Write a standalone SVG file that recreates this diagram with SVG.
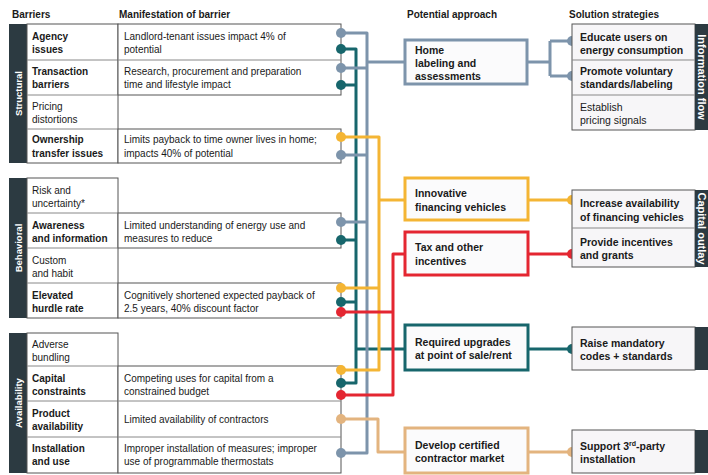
<svg xmlns="http://www.w3.org/2000/svg" width="708" height="475" viewBox="0 0 708 475">
<style>
text{font-family:"Liberation Sans",Arial,sans-serif;fill:#1a1a1a}
.h{font-size:10px;font-weight:bold}
.b{font-size:10px;font-weight:bold}
.n{font-size:10px}
.a{font-size:10.5px;font-weight:bold}
.s{font-size:10.5px;font-weight:bold}
.sn{font-size:10.5px}
.cell{fill:#fff;stroke:#555;stroke-width:1}
.sol{fill:#f7f6f8;stroke:#555;stroke-width:1}
.sep{stroke:#888;stroke-width:1}
.bar{fill:#2c3a41}
.bt{fill:#fff;font-size:9.5px;font-weight:bold;text-anchor:middle}
.rt{fill:#fff;font-size:11px;font-weight:bold;text-anchor:middle}
.ln{fill:none;stroke-width:3;stroke-linejoin:round}
.gy{stroke:#7d94ab}.tl{stroke:#17666c}.og{stroke:#f4b534}.rd{stroke:#e42631}.tn{stroke:#e3b47f}
.dgy{fill:#7d94ab}.dtl{fill:#17666c}.dog{fill:#f4b534}.drd{fill:#e42631}.dtn{fill:#e3b47f}
.ab{fill:#fbfbfc;stroke-width:3}
</style>

<g id="headers">
<text class="h" x="12" y="18">Barriers</text>
<text class="h" x="119" y="18">Manifestation of barrier</text>
<text class="h" x="407" y="18">Potential approach</text>
<text class="h" x="569" y="18">Solution strategies</text>
</g>

<g id="structural">
<rect class="bar" x="9" y="24" width="18" height="139"/>
<text class="bt" transform="translate(21.5,93.5) rotate(-90)">Structural</text>
<rect class="cell" x="27" y="24" width="91" height="139"/>
<line class="sep" x1="27" y1="60" x2="118" y2="60"/>
<line class="sep" x1="27" y1="95" x2="118" y2="95"/>
<line class="sep" x1="27" y1="129" x2="118" y2="129"/>
<rect class="cell" x="118" y="24" width="223" height="71"/>
<line class="sep" x1="118" y1="60" x2="341" y2="60"/>
<rect class="cell" x="118" y="129" width="223" height="34"/>
<text class="b" x="32" y="39.5">Agency</text>
<text class="b" x="32" y="52.5">issues</text>
<text class="n" x="124" y="39.5">Landlord-tenant issues impact 4% of</text>
<text class="n" x="124" y="52.5">potential</text>
<text class="b" x="32" y="75">Transaction</text>
<text class="b" x="32" y="88">barriers</text>
<text class="n" x="124" y="75">Research, procurement and preparation</text>
<text class="n" x="124" y="88">time and lifestyle impact</text>
<text class="n" x="32" y="110">Pricing</text>
<text class="n" x="32" y="123">distortions</text>
<text class="b" x="32" y="143">Ownership</text>
<text class="b" x="32" y="157">transfer issues</text>
<text class="n" x="124" y="143">Limits payback to time owner lives in home;</text>
<text class="n" x="124" y="157">impacts 40% of potential</text>
</g>

<g id="behavioral">
<rect class="bar" x="9" y="178" width="18" height="140"/>
<text class="bt" transform="translate(21.5,248) rotate(-90)">Behavioral</text>
<rect class="cell" x="27" y="178" width="91" height="140"/>
<line class="sep" x1="27" y1="213" x2="118" y2="213"/>
<line class="sep" x1="27" y1="248" x2="118" y2="248"/>
<line class="sep" x1="27" y1="283" x2="118" y2="283"/>
<rect class="cell" x="118" y="213" width="223" height="35"/>
<rect class="cell" x="118" y="283" width="223" height="35"/>
<text class="n" x="32" y="194">Risk and</text>
<text class="n" x="32" y="207">uncertainty*</text>
<text class="b" x="32" y="229">Awareness</text>
<text class="b" x="32" y="242">and information</text>
<text class="n" x="124" y="229">Limited understanding of energy use and</text>
<text class="n" x="124" y="242">measures to reduce</text>
<text class="n" x="32" y="264">Custom</text>
<text class="n" x="32" y="277">and habit</text>
<text class="b" x="32" y="299">Elevated</text>
<text class="b" x="32" y="312">hurdle rate</text>
<text class="n" x="124" y="299">Cognitively shortened expected payback of</text>
<text class="n" x="124" y="312">2.5 years, 40% discount factor</text>
</g>

<g id="availability">
<rect class="bar" x="9" y="333" width="18" height="140"/>
<text class="bt" transform="translate(21.5,403) rotate(-90)">Availability</text>
<rect class="cell" x="27" y="333" width="91" height="140"/>
<line class="sep" x1="27" y1="366" x2="118" y2="366"/>
<line class="sep" x1="27" y1="401" x2="118" y2="401"/>
<line class="sep" x1="27" y1="437" x2="118" y2="437"/>
<rect class="cell" x="118" y="366" width="223" height="107"/>
<line class="sep" x1="118" y1="401" x2="341" y2="401"/>
<line class="sep" x1="118" y1="437" x2="341" y2="437"/>
<text class="n" x="32" y="348">Adverse</text>
<text class="n" x="32" y="361">bundling</text>
<text class="b" x="32" y="382">Capital</text>
<text class="b" x="32" y="395">constraints</text>
<text class="n" x="124" y="382">Competing uses for capital from a</text>
<text class="n" x="124" y="395">constrained budget</text>
<text class="b" x="32" y="417">Product</text>
<text class="b" x="32" y="430">availability</text>
<text class="n" x="124" y="423">Limited availability of contractors</text>
<text class="b" x="32" y="452">Installation</text>
<text class="b" x="32" y="465">and use</text>
<text class="n" x="124" y="452">Improper installation of measures; improper</text>
<text class="n" x="124" y="465">use of programmable thermostats</text>
</g>

<g id="connectors">
<!-- teal -->
<path class="ln tl" d="M341,49 H356 V383 H341 M341,85 H356 M341,240 H356 M341,302 H356 M356,349 H405"/>
<!-- gray -->
<path class="ln gy" d="M341,33 H367 V453 H341 M341,68 H367 M341,155 H367 M341,222 H367 M367,62 H405"/>
<!-- orange -->
<path class="ln og" d="M341,137 H379 V370 H341 M341,288 H379 M379,200 H405"/>
<!-- red -->
<path class="ln rd" d="M405,254 H393 V395 H341 M341,312 H393"/>
<!-- tan -->
<path class="ln tn" d="M341,419 H378 V452 H405"/>
<!-- approach to solutions -->
<path class="ln gy" d="M527,62 H550 M550,41 V76 M550,41 H572 M550,76 H572"/>
<path class="ln og" d="M528,200 H572"/>
<path class="ln rd" d="M528,254 H572"/>
<path class="ln tl" d="M528,349 H572"/>
<path class="ln tn" d="M528,452 H572"/>
<!-- dots -->
<circle class="dgy" cx="341" cy="33" r="5"/>
<circle class="dtl" cx="341" cy="49" r="5"/>
<circle class="dgy" cx="341" cy="68" r="5"/>
<circle class="dtl" cx="341" cy="85" r="5"/>
<circle class="dog" cx="341" cy="137" r="5"/>
<circle class="dgy" cx="341" cy="155" r="5"/>
<circle class="dgy" cx="341" cy="222" r="5"/>
<circle class="dtl" cx="341" cy="240" r="5"/>
<circle class="dog" cx="341" cy="288" r="5"/>
<circle class="dtl" cx="341" cy="302" r="5"/>
<circle class="drd" cx="341" cy="312" r="5"/>
<circle class="dog" cx="341" cy="370" r="5"/>
<circle class="dtl" cx="341" cy="383" r="5"/>
<circle class="drd" cx="341" cy="395" r="5"/>
<circle class="dtn" cx="341" cy="419" r="5"/>
<circle class="dgy" cx="341" cy="453" r="5"/>
<circle class="dgy" cx="572" cy="41" r="5"/>
<circle class="dgy" cx="572" cy="76" r="5"/>
<circle class="dog" cx="572" cy="200" r="5"/>
<circle class="drd" cx="572" cy="254" r="5"/>
<circle class="dtl" cx="572" cy="349" r="5"/>
<circle class="dtn" cx="572" cy="452" r="5"/>
</g>

<g id="home-labeling">
<rect class="ab gy" x="405" y="40" width="122" height="44"/>
<text class="a" x="415" y="54">Home</text>
<text class="a" x="415" y="67">labeling and</text>
<text class="a" x="415" y="80">assessments</text>
</g>
<g id="innovative-financing">
<rect class="ab og" x="405" y="178" width="123" height="42"/>
<text class="a" x="415" y="197">Innovative</text>
<text class="a" x="415" y="211">financing vehicles</text>
</g>
<g id="tax-incentives">
<rect class="ab rd" x="405" y="232" width="123" height="43"/>
<text class="a" x="415" y="251">Tax and other</text>
<text class="a" x="415" y="265">incentives</text>
</g>
<g id="required-upgrades">
<rect class="ab tl" x="405" y="325" width="123" height="45"/>
<text class="a" x="415" y="346">Required upgrades</text>
<text class="a" x="415" y="359">at point of sale/rent</text>
</g>
<g id="certified-contractor">
<rect class="ab tn" x="405" y="428" width="123" height="45"/>
<text class="a" x="415" y="449">Develop certified</text>
<text class="a" x="415" y="462">contractor market</text>
</g>

<g id="information-flow">
<rect class="sol" x="572" y="24" width="123" height="106"/>
<line class="sep" x1="572" y1="60" x2="695" y2="60"/>
<line class="sep" x1="572" y1="95" x2="695" y2="95"/>
<rect class="bar" x="695" y="24" width="13" height="106"/>
<text class="rt" transform="translate(697.5,77) rotate(90)">Information flow</text>
<text class="s" x="580" y="41">Educate users on</text>
<text class="s" x="580" y="54">energy consumption</text>
<text class="s" x="580" y="75">Promote voluntary</text>
<text class="s" x="580" y="88">standards/labeling</text>
<text class="sn" x="580" y="111">Establish</text>
<text class="sn" x="580" y="124">pricing signals</text>
</g>
<g id="capital-outlay">
<rect class="sol" x="572" y="190" width="123" height="77"/>
<line class="sep" x1="572" y1="228" x2="695" y2="228"/>
<rect class="bar" x="695" y="190" width="13" height="77"/>
<text class="rt" transform="translate(697.5,228.5) rotate(90)">Capital outlay</text>
<text class="s" x="580" y="207">Increase availability</text>
<text class="s" x="580" y="221">of financing vehicles</text>
<text class="s" x="580" y="246">Provide incentives</text>
<text class="s" x="580" y="259">and grants</text>
</g>
<g id="mandatory-codes">
<rect class="sol" x="572" y="327" width="123" height="43"/>
<rect class="bar" x="695" y="327" width="13" height="43"/>
<text class="s" x="580" y="347">Raise mandatory</text>
<text class="s" x="580" y="360">codes + standards</text>
</g>
<g id="third-party">
<rect class="sol" x="572" y="430" width="123" height="43"/>
<rect class="bar" x="695" y="430" width="13" height="43"/>
<text class="s" x="580" y="450">Support 3<tspan font-size="7" dy="-4">rd</tspan><tspan dy="4">-party</tspan></text>
<text class="s" x="580" y="463">installation</text>
</g>
</svg>
